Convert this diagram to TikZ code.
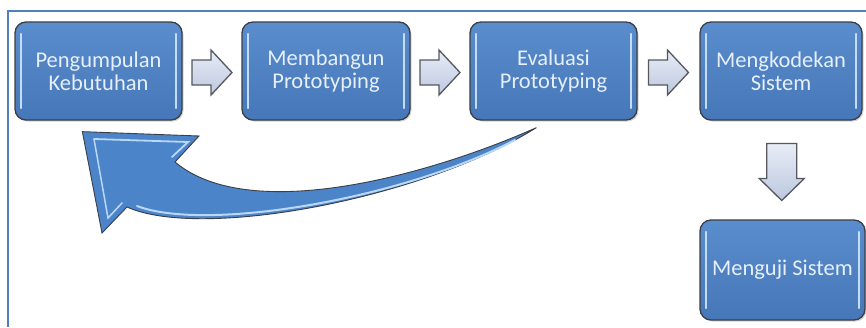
\documentclass[tikz,border=0pt]{standalone}
\usepackage{fontspec}
\setmainfont{Carlito}
\usetikzlibrary{calc,shadows}

\definecolor{frameblue}{HTML}{4F81BD}
\definecolor{boxtop}{HTML}{5A8DCD}
\definecolor{boxbot}{HTML}{4677B8}
\definecolor{boxedge}{HTML}{3A3F46}
\definecolor{boxtext}{HTML}{E6EFFA}
\definecolor{boxshine}{HTML}{C4DCF4}
\definecolor{arrtop}{HTML}{E8ECF6}
\definecolor{arrbot}{HTML}{BCC8E0}
\definecolor{arredge}{HTML}{55585E}
\definecolor{loopfill}{HTML}{4C84CA}
\definecolor{loopshine}{HTML}{B9D7F6}

\tikzset{
  stepbox/.style={
    draw=boxedge, line width=1.3pt, rounded corners=11pt,
    top color=boxtop, bottom color=boxbot,
    text=boxtext, font=\fontsize{22.5}{23}\selectfont, align=center,
    inner sep=0pt, minimum height=98pt,
    drop shadow={opacity=0.35, shadow xshift=1.5pt, shadow yshift=-1.5pt},
    path picture={
      \draw[boxshine, line width=2.4pt, line cap=round]
        ($(path picture bounding box.north west)+(6,12)$) --
        ($(path picture bounding box.south west)+(6,-12)$)
        ($(path picture bounding box.north east)+(-6,12)$) --
        ($(path picture bounding box.south east)+(-6,-12)$);
    }
  },
  blockarrow/.style={
    draw=arredge, line width=1.3pt, line join=miter,
    top color=arrtop, bottom color=arrbot
  },
  rarrow/.pic={
    \path[blockarrow] (-20,-12.5) -- (-1,-12.5) -- (-1,-22.5) -- (20,0)
      -- (-1,22.5) -- (-1,12.5) -- (-20,12.5) -- cycle;
  },
  darrow/.pic={
    \path[blockarrow] (-15,-28) -- (15,-28) -- (15,7) -- (22.5,7) -- (0,29)
      -- (-22.5,7) -- (-15,7) -- cycle;
  },
  looparrow/.style={
    draw=boxedge, line width=0.9pt, fill=loopfill, line join=miter
  },
  frameline/.style={draw=frameblue, line width=2pt}
}

\begin{document}
\begin{tikzpicture}[x=1pt, y=-1pt]
  \useasboundingbox[fill=white] (0,0) rectangle (866,327);

  % outer frame
  \draw[frameline] (8,327) -- (8,11) -- (866,11);

  % process steps
  \node[stepbox, minimum width=167pt] (b1) at (98.5,71) {Pengumpulan\\Kebutuhan};
  \node[stepbox, minimum width=168pt] (b2) at (326,71) {Membangun\\Prototyping};
  \node[stepbox, minimum width=167pt] (b3) at (553.5,71) {Evaluasi\\Prototyping};
  \node[stepbox, minimum width=162pt] (b4) at (781,71) {Mengkodekan\\Sistem};
  \node[stepbox, minimum width=165pt, minimum height=100pt] (b5) at (782.5,270) {Menguji Sistem};

  % block arrows between the steps
  \pic at ($(b1.east)!0.5!(b2.west)+(0,1.5)$) {rarrow};
  \pic at ($(b2.east)!0.5!(b3.west)+(0,1.5)$) {rarrow};
  \pic at ($(b3.east)!0.5!(b4.west)+(0,1.5)$) {rarrow};
  \pic at ($(b4.south)!0.5!(b5.north)+(0,1.5)$) {darrow};

  % feedback arrow from evaluation back to requirements gathering
  \coordinate (tail) at ($(b3.south west)+(67,7)$);
  \coordinate (tip) at ($(b1.south west)+(68,11)$);
  \path[looparrow]
    (tail) .. controls (430,175) and (250,225) .. (175,162)
    -- (199,136) -- (tip) -- (102,233) -- (127,207)
    .. controls (200,240) and (420,200) .. (tail) -- cycle;
  % glossy highlights on the feedback arrow
  \draw[loopshine, line width=2pt, line cap=round]
    (137,206) .. controls (205,232) and (400,200) .. (515,140);
  \draw[loopshine, line width=1.8pt, line cap=round]
    (94,139) -- (188,142) -- (172,157);
  \draw[loopshine, line width=1.5pt, line cap=round]
    (94,139) -- (108,218) -- (122,203);
\end{tikzpicture}
\end{document}
